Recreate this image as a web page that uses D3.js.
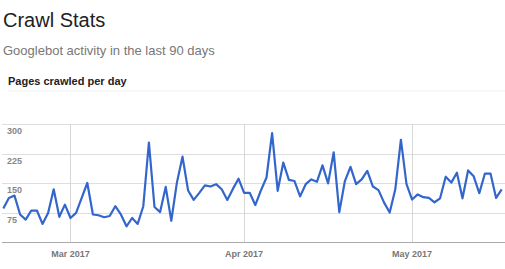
<!DOCTYPE html>
<html>
<head>
<meta charset="utf-8">
<script src="https://cdnjs.cloudflare.com/ajax/libs/d3/7.8.5/d3.min.js"></script>
<style>
body { margin: 0; background: #fff; }
text { font-family: Arial, "Liberation Sans", sans-serif; }
</style>
</head>
<body>
<div id="svgDiv"></div>
<script>
var w = 505;
var h = 269;

// pages crawled per day, starting 17 Feb 2017
var crawled = [85, 112, 118, 70, 57, 80, 80, 46, 74, 134,
	64, 95, 61, 74, 112, 150, 70, 68, 63, 66,
	91, 70, 40, 61, 46, 91, 253, 89, 76, 140,
	54, 151, 217, 131, 107, 125, 144, 141, 147, 134,
	107, 135, 161, 125, 125, 94, 131, 164, 277, 130,
	202, 158, 155, 116, 147, 159, 153, 195, 149, 228,
	76, 155, 191, 147, 159, 181, 141, 132, 100, 75,
	134, 260, 147, 108, 121, 114, 112, 101, 111, 166,
	151, 176, 111, 182, 167, 124, 174, 174, 112, 134]
var startDay = new Date(2017, 1, 17)
var yTicks = [75, 150, 225, 300]
var xTicks = [new Date(2017, 2, 1), new Date(2017, 3, 1), new Date(2017, 4, 1)]

var data = crawled.map(function (v, i) {
	return {date: d3.timeDay.offset(startDay, i), value: v}
})

var svg = d3.select("#svgDiv")
	.append("svg")
	.attr("width", w)
	.attr("height", h);

// header
svg.append("text").attr("x", 3).attr("y", 27)
	.style("font-size", "20px").style("fill", "#222").text("Crawl Stats")
svg.append("text").attr("x", 3).attr("y", 55)
	.style("font-size", "13px").style("fill", "#777").text("Googlebot activity in the last 90 days")
svg.append("text").attr("x", 8).attr("y", 85)
	.style("font-size", "11px").style("font-weight", "bold").style("fill", "#222").text("Pages crawled per day")
svg.append("line").attr("x1", 8).attr("x2", w).attr("y1", 91).attr("y2", 91)
	.style("stroke", "#f0f0f0").style("stroke-width", 1)

var x = d3.scaleTime()
	.domain([startDay, d3.timeDay.offset(startDay, crawled.length - 1)])
	.range([3.3, 501.7])

var y = d3.scaleLinear()
	.domain([0, 300])
	.range([242, 124])

var g = svg.append("g")

// horizontal gridlines
g.selectAll(".hgrid")
	.data(yTicks)
	.enter()
	.append("line")
	.attr("x1", 2).attr("x2", w)
	.attr("y1", function (d) { return Math.round(y(d)) + 0.5 })
	.attr("y2", function (d) { return Math.round(y(d)) + 0.5 })
	.style("stroke", "#dedede")

// vertical gridlines
g.selectAll(".vgrid")
	.data(xTicks)
	.enter()
	.append("line")
	.attr("x1", function (d) { return Math.round(x(d)) + 0.5 })
	.attr("x2", function (d) { return Math.round(x(d)) + 0.5 })
	.attr("y1", y(300)).attr("y2", y(0))
	.style("stroke", "#d6d6d6")

// baseline
g.append("line").attr("x1", 2).attr("x2", w)
	.attr("y1", Math.round(y(0)) + 0.5).attr("y2", Math.round(y(0)) + 0.5)
	.style("stroke", "#aaa")

g.selectAll(".ylab")
	.data(yTicks)
	.enter()
	.append("text")
	.attr("x", 7)
	.attr("y", function (d) { return y(d) + 10 })
	.style("font-size", "9px").style("font-weight", "bold").style("fill", "#888")
	.text(function (d) { return d })

var fmt = d3.timeFormat("%b %Y")
g.selectAll(".xlab")
	.data(xTicks)
	.enter()
	.append("text")
	.attr("x", function (d) { return x(d) })
	.attr("y", 257)
	.attr("text-anchor", "middle")
	.style("font-size", "9px").style("font-weight", "bold").style("fill", "#777")
	.text(function (d) { return fmt(d) })

var line = d3.line()
	.x(function (d) { return x(d.date) })
	.y(function (d) { return y(d.value) })

g.append("path")
	.datum(data)
	.attr("d", line)
	.style("fill", "none")
	.style("stroke", "#3366cc")
	.style("stroke-width", 2.2)
	.style("stroke-linejoin", "round")
</script>
</body>
</html>
